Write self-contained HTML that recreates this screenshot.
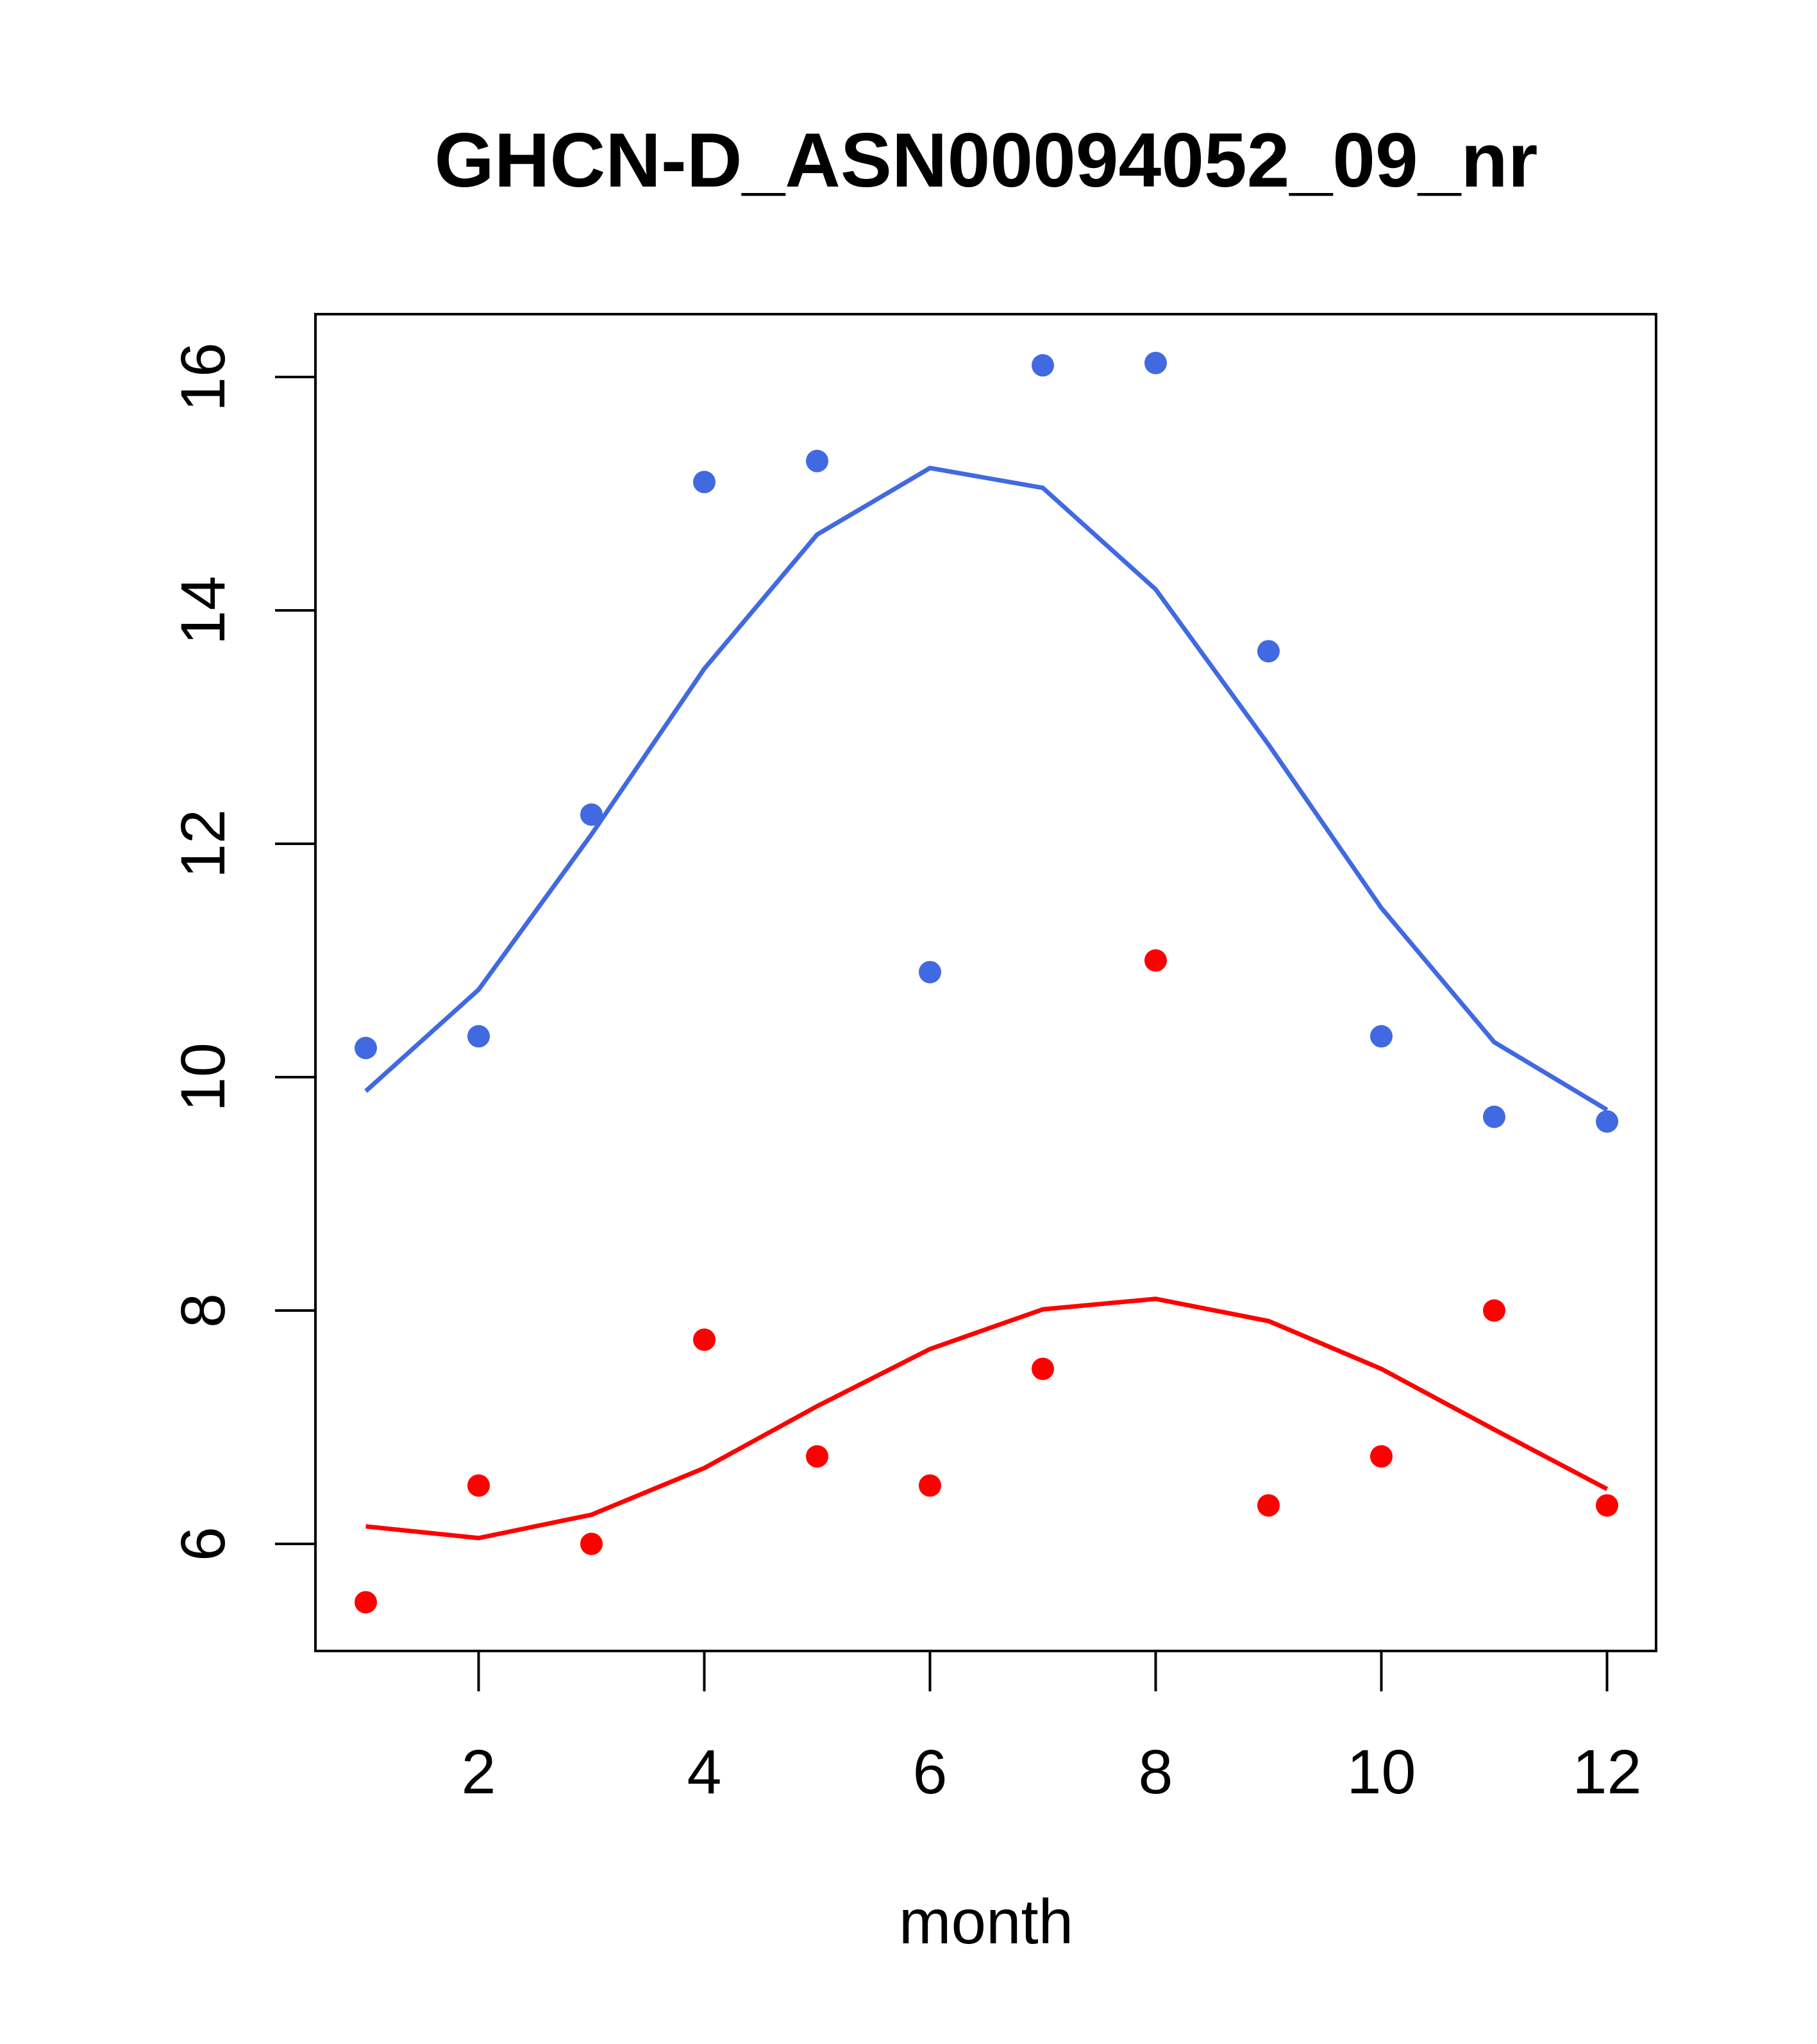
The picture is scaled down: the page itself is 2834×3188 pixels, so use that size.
<!DOCTYPE html>
<html><head><meta charset="utf-8"><style>
html,body{margin:0;padding:0;background:#fff;}
svg{display:block;font-family:"Liberation Sans",Arial,sans-serif;}
</style></head><body>
<svg id="chart" width="2834" height="3188" viewBox="0 0 2834 3188" xmlns="http://www.w3.org/2000/svg">
<rect width="2834" height="3188" fill="#fff"/>
<text x="1538" y="291" font-size="120" font-weight="bold" text-anchor="middle">GHCN-D_ASN00094052_09_nr</text>
<rect x="492" y="490" width="2091" height="2085" fill="none" stroke="#000" stroke-width="4"/>
<text x="1538" y="3031" font-size="98" text-anchor="middle">month</text>
<g id="axes"></g>
<g id="marks"></g>
</svg>
<script>
const months = [1,2,3,4,5,6,7,8,9,10,11,12];
const bluePoints = [10.25,10.35,12.25,15.1,15.28,10.9,16.1,16.12,13.65,10.35,9.66,9.62];
const blueLine = [9.88,10.75,12.08,13.5,14.65,15.22,15.05,14.18,12.85,11.45,10.3,9.72];
const redPoints = [5.5,6.5,6.0,7.75,6.75,6.5,7.5,11.0,6.33,6.75,8.0,6.33];
const redLine = [6.15,6.05,6.25,6.65,7.18,7.67,8.01,8.1,7.91,7.5,6.98,6.47];
const xTicks = [2,4,6,8,10,12];
const yTicks = [6,8,10,12,14,16];

const NS = "http://www.w3.org/2000/svg";
function xs(m){ return 746.5 + (m-2)*176; }
function ys(v){ return 2408 - (v-6)*182; }
function mk(tag, attrs, parent){ const e=document.createElementNS(NS,tag); for(const k in attrs) e.setAttribute(k,attrs[k]); parent.appendChild(e); return e; }
const axes=document.getElementById('axes'), marks=document.getElementById('marks');

xTicks.forEach(t=>{
  const l=mk('line',{x1:xs(t),x2:xs(t),y1:2575,y2:2638,stroke:'#000','stroke-width':4},axes);
  
  
  const tx=mk('text',{x:xs(t),y:2797,'font-size':97,'text-anchor':'middle'},axes);
  tx.textContent=t;
  
  
});
yTicks.forEach(t=>{
  const l=mk('line',{x1:429,x2:492,y1:ys(t),y2:ys(t),stroke:'#000','stroke-width':4},axes);
  
  
  const tx=mk('text',{x:0,y:0,'font-size':97,'text-anchor':'middle',transform:`translate(350,${ys(t)}) rotate(-90)`},axes);
  tx.textContent=t;
  
  
});

function line(vals,color,name){
  const p=mk('polyline',{points:months.map((m,i)=>xs(m)+','+ys(vals[i])).join(' '),fill:'none',stroke:color,'stroke-width':7},marks);
  
  
}
function pts(vals,color,name){
  months.forEach((m,i)=>{
    const c=mk('circle',{cx:xs(m),cy:ys(vals[i]),r:17.5,fill:color},marks);
    
    
  });
}
line(blueLine,'#4169E1','blue-smooth-line');
line(redLine,'#FF0000','red-smooth-line');
pts(bluePoints,'#4169E1','blue-point');
pts(redPoints,'#FF0000','red-point');
</script>
</body></html>
